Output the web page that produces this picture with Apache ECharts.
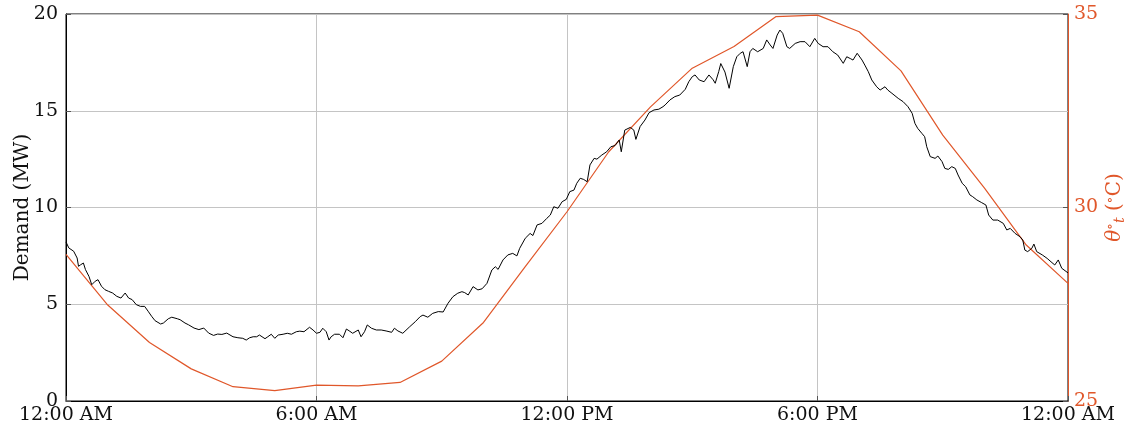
<!DOCTYPE html>
<html>
<head>
<meta charset="utf-8">
<script src="https://cdn.jsdelivr.net/npm/echarts@6/dist/echarts.min.js"></script>
<style>
  html, body { margin: 0; padding: 0; background: #fff; }
  #chart { width: 1139px; height: 439px; }
</style>
</head>
<body>
<div id="chart"></div>
<script>
// Time of day in minutes after midnight for the demand trace
const demandMinutes = [
  0, 4, 11, 16, 18, 21, 25, 28, 33, 37, 42, 46, 51, 56, 61, 67, 73, 79, 85, 90,
  95, 101, 107, 113, 118, 123, 128, 136, 140, 147, 152, 160, 164, 171, 176, 184, 191, 198, 205, 212,
  218, 224, 231, 233, 240, 247, 254, 259, 264, 269, 274, 278, 286, 290, 295, 300, 305, 312, 318, 324,
  331, 336, 342, 350, 355, 360, 365, 369, 374, 378, 381, 386, 393, 398, 403, 408, 412, 420, 424, 429,
  433, 439, 446, 453, 460, 468, 472, 477, 484, 494, 502, 509, 513, 520, 527, 535, 542, 549, 556, 563,
  569, 573, 578, 585, 592, 598, 605, 612, 617, 621, 628, 635, 642, 648, 652, 660, 667, 671, 677, 684,
  691, 696, 701, 707, 713, 719, 724, 730, 734, 739, 744, 749, 753, 759, 763, 770, 777, 783, 789, 795,
  798, 803, 811, 816, 819, 825, 832, 838, 845, 852, 858, 861, 868, 875, 882, 890, 895, 900, 904, 910,
  917, 924, 930, 933, 938, 941, 947, 953, 959, 964, 969, 973, 979, 983, 987, 994, 1002, 1007, 1012, 1016,
  1022, 1026, 1030, 1036, 1040, 1048, 1055, 1062, 1069, 1076, 1081, 1088, 1095, 1102, 1109, 1117, 1122, 1127, 1131, 1137,
  1144, 1148, 1153, 1158, 1165, 1170, 1177, 1181, 1187, 1196, 1203, 1210, 1216, 1220, 1224, 1230, 1234, 1237, 1242, 1249,
  1253, 1259, 1263, 1268, 1273, 1278, 1282, 1288, 1293, 1299, 1303, 1309, 1316, 1322, 1326, 1332, 1339, 1347, 1352, 1357,
  1364, 1371, 1375, 1378, 1382, 1388, 1391, 1395, 1403, 1410, 1417, 1421, 1426, 1431, 1440
];

// Electricity demand (MW)
const demandMW = [
  8.22, 7.91, 7.74, 7.39, 6.96, 7.04, 7.13, 6.79, 6.44, 6.01, 6.19, 6.27, 5.93, 5.75, 5.67, 5.58, 5.41, 5.32, 5.58, 5.32,
  5.24, 4.98, 4.89, 4.89, 4.64, 4.38, 4.15, 3.98, 4.03, 4.25, 4.33, 4.25, 4.20, 4.03, 3.94, 3.77, 3.69, 3.77, 3.51, 3.39,
  3.46, 3.44, 3.51, 3.41, 3.32, 3.27, 3.24, 3.15, 3.27, 3.32, 3.32, 3.41, 3.22, 3.32, 3.45, 3.24, 3.41, 3.45, 3.50, 3.45,
  3.58, 3.61, 3.58, 3.81, 3.67, 3.50, 3.55, 3.76, 3.58, 3.15, 3.32, 3.45, 3.45, 3.27, 3.72, 3.60, 3.50, 3.67, 3.32, 3.58,
  3.93, 3.76, 3.67, 3.67, 3.62, 3.55, 3.76, 3.62, 3.50, 3.84, 4.10, 4.36, 4.44, 4.33, 4.53, 4.62, 4.60, 5.05, 5.39, 5.57,
  5.65, 5.60, 5.48, 5.91, 5.74, 5.80, 6.08, 6.77, 6.94, 6.80, 7.29, 7.55, 7.63, 7.50, 7.89, 8.41, 8.66, 8.55, 9.10, 9.18,
  9.44, 9.61, 10.04, 9.96, 10.30, 10.42, 10.82, 10.90, 11.25, 11.51, 11.45, 11.33, 12.20, 12.54, 12.50, 12.71, 12.88, 13.14, 13.20, 13.49,
  12.88, 14.00, 14.14, 14.00, 13.52, 14.18, 14.52, 14.90, 15.04, 15.08, 15.21, 15.30, 15.56, 15.73, 15.81, 16.11, 16.50, 16.76, 16.85, 16.59,
  16.50, 16.85, 16.60, 16.42, 17.02, 17.44, 17.00, 16.16, 17.28, 17.79, 17.97, 18.05, 17.28, 18.05, 18.22, 18.05, 18.22, 18.66, 18.40, 18.22,
  18.91, 19.17, 19.00, 18.31, 18.22, 18.48, 18.57, 18.57, 18.31, 18.74, 18.48, 18.31, 18.31, 18.05, 17.88, 17.45, 17.79, 17.70, 17.62, 17.97,
  17.62, 17.36, 17.02, 16.59, 16.24, 16.07, 16.24, 16.07, 15.90, 15.64, 15.47, 15.21, 14.87, 14.35, 14.09, 13.83, 13.66, 13.14, 12.63, 12.54,
  12.66, 12.37, 12.02, 11.97, 12.11, 12.02, 11.68, 11.25, 11.07, 10.65, 10.56, 10.39, 10.25, 10.13, 9.61, 9.35, 9.35, 9.18, 8.84, 8.92,
  8.66, 8.49, 8.32, 7.80, 7.72, 7.89, 8.11, 7.72, 7.55, 7.37, 7.15, 7.03, 7.29, 6.86, 6.62
];

// Hourly ambient temperature (°C), hours 0..24
const tempHours = [0, 1, 2, 3, 4, 5, 6, 7, 8, 9, 10, 11, 12, 13, 14, 15, 16, 17, 18, 19, 20, 21, 22, 23, 24];
const tempC = [
  28.79, 27.48, 26.51, 25.83, 25.37, 25.27, 25.41, 25.39, 25.48, 26.03, 27.03, 28.47, 29.89,
  31.44, 32.60, 33.60, 34.16, 34.93, 34.97, 34.54, 33.53, 31.87, 30.50, 29.03, 28.04
];

// Tick labels along the time axis
const timeTicks = { 0: '12:00 AM', 360: '6:00 AM', 720: '12:00 PM', 1080: '6:00 PM', 1440: '12:00 AM' };

const ORANGE = '#e0572a';
const FONT = 'DejaVu Serif';

const demandData = demandMinutes.map((m, i) => [m, demandMW[i]]);
const tempData = tempHours.map((h, i) => [h * 60, tempC[i]]);

const chart = echarts.init(document.getElementById('chart'), null, { renderer: 'canvas' });

chart.setOption({
  animation: false,
  backgroundColor: '#fff',
  grid: {
    left: 66, right: 71, top: 14, bottom: 38,
    containLabel: false, outerBoundsMode: 'none',
    show: true, borderColor: '#000', borderWidth: 1
  },
  xAxis: {
    type: 'value', min: 0, max: 1440, interval: 360,
    axisLine: { show: true, lineStyle: { color: '#000', width: 1 } },
    axisTick: { show: true, inside: true, length: 5, lineStyle: { color: '#555' } },
    splitLine: { show: true, lineStyle: { color: '#c4c4c4', width: 1 } },
    axisLabel: {
      formatter: v => timeTicks[v] || '',
      color: '#111', fontFamily: FONT, fontSize: 19, margin: 5
    }
  },
  yAxis: [
    {
      type: 'value', min: 0, max: 20, interval: 5, position: 'left',
      name: 'Demand (MW)', nameLocation: 'middle', nameGap: 33, nameRotate: 90,
      nameMoveOverlap: false,
      nameTextStyle: { color: '#111', fontFamily: FONT, fontSize: 20 },
      axisLine: { show: true, lineStyle: { color: '#000', width: 1 } },
      axisTick: { show: true, inside: true, length: 5, lineStyle: { color: '#555' } },
      splitLine: { show: true, lineStyle: { color: '#c4c4c4', width: 1 } },
      axisLabel: { color: '#111', fontFamily: FONT, fontSize: 19, margin: 8 }
    },
    {
      type: 'value', min: 25, max: 35, interval: 5, position: 'right',
      name: '{th|θ}{sup|∘}{sub|t} ({deg|∘}C)',
      nameLocation: 'middle', nameGap: 35, nameRotate: 90,
      nameMoveOverlap: false,
      nameTextStyle: {
        color: ORANGE, fontFamily: FONT, fontSize: 20,
        rich: {
          th: { color: ORANGE, fontFamily: FONT, fontSize: 20, fontStyle: 'italic' },
          sup: { color: ORANGE, fontFamily: FONT, fontSize: 14, padding: [0, 0, 10, 0] },
          sub: { color: ORANGE, fontFamily: FONT, fontSize: 14, fontStyle: 'italic', padding: [10, 0, 0, 0] },
          deg: { color: ORANGE, fontFamily: FONT, fontSize: 14, padding: [0, 0, 9, 0] }
        }
      },
      axisLine: { show: true, lineStyle: { color: ORANGE, width: 1 } },
      axisTick: { show: true, inside: true, length: 5, lineStyle: { color: '#555' } },
      splitLine: { show: false },
      axisLabel: { color: ORANGE, fontFamily: FONT, fontSize: 19, margin: 6 }
    }
  ],
  series: [
    {
      name: 'Demand', type: 'line', yAxisIndex: 0, data: demandData,
      showSymbol: false, symbol: 'none', smooth: false,
      lineStyle: { color: '#000', width: 1 }, z: 3
    },
    {
      name: 'Temperature', type: 'line', yAxisIndex: 1, data: tempData,
      showSymbol: false, symbol: 'none', smooth: false,
      lineStyle: { color: ORANGE, width: 1.2 }, z: 2
    }
  ]
});
</script>
</body>
</html>
